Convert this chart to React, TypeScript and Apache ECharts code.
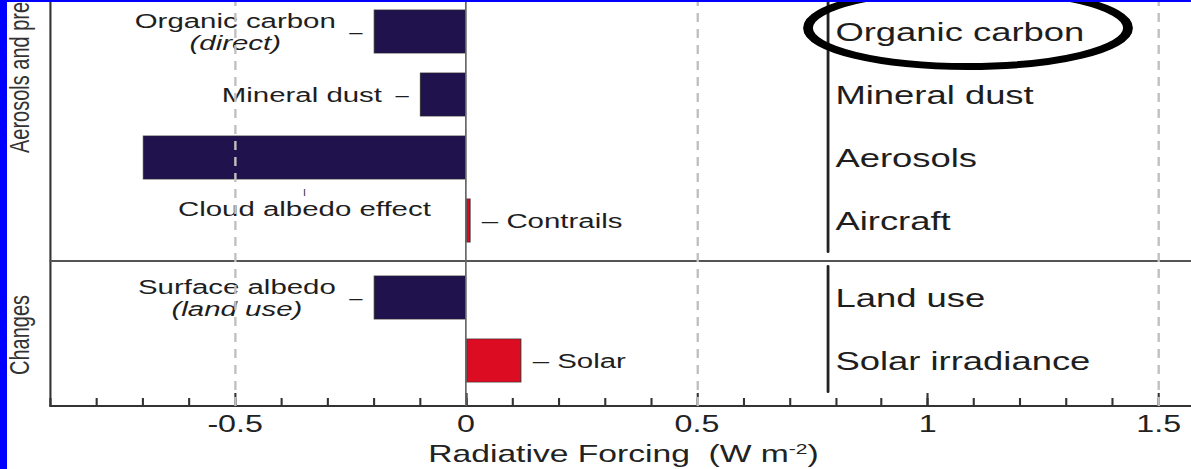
import React, { useEffect, useRef } from 'react';
import * as echarts from 'echarts';

// ---------- data ----------
const aerosolCategories = ['Organic carbon', 'Mineral dust', 'Aerosols', 'Aircraft'];
const aerosolAnnotations = ['Organic carbon\n(direct)', 'Mineral dust', 'Cloud albedo effect', 'Contrails'];
const aerosolValues = [-0.2, -0.1, -0.7, 0.01];

const changeCategories = ['Land use', 'Solar irradiance'];
const changeAnnotations = ['Surface albedo\n(land use)', 'Solar'];
const changeValues = [-0.2, 0.12];

const dashedGridValues = [-0.5, 0.5, 1.5];
const xMin = -0.9;
const xMax = 1.582;
const xAxisTitle = 'Radiative Forcing  (W m{sup|-2})';
const panelTitles = ['Aerosols and pre', 'Changes'];
const annotationsBelowBar = ['Cloud albedo effect'];

// ---------- styling ----------
const SCALE_X = 1.4011;
const INNER_W = 850;
const H = 469;
const FONT = '"Liberation Sans", Arial, Helvetica, sans-serif';
const NAVY = '#20124d';
const RED = '#dc0c23';
const TEXT = '#1e1e1e';

function barItems(values: number[], annotations: string[]) {
  return values.map((v, i) => {
    const name = annotations[i];
    let label: any;
    if (annotationsBelowBar.includes(name)) {
      label = {
        show: true,
        position: 'bottom',
        distance: 8,
        formatter: '{t||}\n{n|' + name + '}',
        rich: {
          t: { fontSize: 8, lineHeight: 8, color: '#222', fontFamily: FONT },
          n: { fontSize: 21, lineHeight: 26, color: TEXT, fontFamily: FONT },
        },
      };
    } else if (v < 0) {
      label = { show: true, position: 'left', distance: 8, formatter: '–', fontSize: 17, color: TEXT, fontFamily: FONT };
    } else {
      label = { show: true, position: 'right', distance: 8, formatter: '– ' + name, fontSize: 21, color: TEXT, fontFamily: FONT };
    }
    return {
      value: v,
      itemStyle: { color: v < 0 ? NAVY : RED, borderColor: 'rgba(40,40,40,0.8)', borderWidth: 0.8 },
      label,
    };
  });
}

function nameItems(values: number[], annotations: string[]) {
  const out: any[] = [];
  values.forEach((v, i) => {
    const name = annotations[i];
    if (v >= 0 || annotationsBelowBar.includes(name)) return;
    const lines = name.split('\n');
    const text = lines.map((l, k) => (k === 0 ? '{n|' + l + '}' : '{i|' + l + '}')).join('\n');
    out.push({
      value: [v, i],
      itemStyle: { opacity: 1 },
      label: {
        show: true,
        position: 'left',
        distance: 27,
        opacity: 1,
        color: TEXT,
        formatter: text,
        rich: {
          n: { fontSize: 21, lineHeight: 22, align: 'center', color: TEXT, fontFamily: FONT },
          i: { fontSize: 21, lineHeight: 22, align: 'center', fontStyle: 'italic', color: TEXT, fontFamily: FONT },
        },
      },
    });
  });
  return out;
}

const gridBase = { left: 36, right: -4, containLabel: false, outerBoundsMode: 'none' };
const RIGHT_AXIS_X = 827 / SCALE_X;
const RIGHT_OFFSET = RIGHT_AXIS_X - (INNER_W + 4);

function categoryAxis(gridIndex: number, data: string[]) {
  return {
    type: 'category',
    gridIndex,
    data,
    inverse: true,
    position: 'right',
    offset: RIGHT_OFFSET,
    axisLine: { show: true, onZero: false, lineStyle: { color: '#222', width: 2 } },
    axisTick: { show: false },
    axisLabel: { show: true, fontSize: 26, color: TEXT, margin: 6, fontFamily: FONT, align: 'left' },
    splitLine: { show: false },
  };
}

const option: any = {
  animation: false,
  backgroundColor: '#ffffff',
  textStyle: { fontFamily: FONT },
  grid: [
    { ...gridBase, top: 0, bottom: 63 },
    { ...gridBase, top: 0, height: 252 },
    { ...gridBase, top: 266, height: 126 },
    { ...gridBase, top: 0, bottom: 63 },
  ],
  xAxis: [
    {
      type: 'value',
      gridIndex: 0,
      min: xMin,
      max: xMax,
      axisLine: { show: true, onZero: false, lineStyle: { color: '#333', width: 2 } },
      axisTick: { show: true, inside: true, length: 13, lineStyle: { color: '#333', width: 1.5 } },
      axisLabel: { show: true, fontSize: 23, color: '#222', margin: 7, showMinLabel: false, showMaxLabel: false, fontFamily: FONT },
      splitLine: { show: false },
      name: xAxisTitle,
      nameLocation: 'middle',
      nameGap: 32,
      nameTextStyle: {
        fontSize: 24,
        lineHeight: 26,
        color: '#222',
        fontFamily: FONT,
        rich: { sup: { fontSize: 15, lineHeight: 10, verticalAlign: 'top', color: '#222', fontFamily: FONT } },
      },
    },
    {
      type: 'value',
      gridIndex: 1,
      min: xMin,
      max: xMax,
      position: 'bottom',
      offset: 9,
      axisLine: { show: true, onZero: false, lineStyle: { color: '#555', width: 1.8 } },
      axisTick: { show: false },
      axisLabel: { show: false },
      splitLine: { show: false },
    },
    { type: 'value', gridIndex: 2, min: xMin, max: xMax, show: false },
    {
      type: 'value',
      gridIndex: 3,
      min: xMin,
      max: xMax,
      interval: 0.1,
      axisLine: { show: false, onZero: false },
      axisTick: { show: true, inside: true, length: 8, lineStyle: { color: '#333', width: 1.5 } },
      axisLabel: { show: false },
      splitLine: { show: false },
    },
  ],
  yAxis: [
    { type: 'value', gridIndex: 0, min: 0, max: 1, show: false },
    categoryAxis(1, aerosolCategories),
    categoryAxis(2, changeCategories),
    {
      type: 'value',
      gridIndex: 3,
      min: 0,
      max: 1,
      position: 'left',
      axisLine: { show: true, onZero: false, lineStyle: { color: '#333', width: 1.5 } },
      axisTick: { show: false },
      axisLabel: { show: false },
      splitLine: { show: false },
    },
  ],
  series: [
    {
      type: 'line',
      xAxisIndex: 0,
      yAxisIndex: 0,
      data: [],
      silent: true,
      z: 1,
      markLine: {
        silent: true,
        symbol: ['none', 'none'],
        label: { show: false },
        data: [
          ...dashedGridValues.map((v) => ({ xAxis: v, lineStyle: { type: [9, 7], color: '#c0c0c0', width: 1.7 } })),
          { xAxis: 0, lineStyle: { type: 'solid', color: '#666', width: 1.2 } },
        ],
      },
    },
    {
      type: 'bar',
      name: 'Aerosols and precursors',
      xAxisIndex: 1,
      yAxisIndex: 1,
      barWidth: 44,
      z: 3,
      data: barItems(aerosolValues, aerosolAnnotations),
    },
    {
      type: 'scatter',
      xAxisIndex: 1,
      yAxisIndex: 1,
      symbolSize: 0,
      silent: true,
      z: 4,
      itemStyle: { opacity: 1 },
      data: nameItems(aerosolValues, aerosolAnnotations),
    },
    {
      type: 'bar',
      name: 'Changes',
      xAxisIndex: 2,
      yAxisIndex: 2,
      barWidth: 44,
      z: 3,
      data: barItems(changeValues, changeAnnotations),
    },
    {
      type: 'scatter',
      xAxisIndex: 2,
      yAxisIndex: 2,
      symbolSize: 0,
      silent: true,
      z: 4,
      itemStyle: { opacity: 1 },
      data: nameItems(changeValues, changeAnnotations),
    },
  ],
  graphic: [
    { type: 'rect', shape: { x: 0, y: 0, width: 5, height: H }, style: { fill: '#0000ff' }, z: 100 },
    { type: 'rect', shape: { x: 0, y: 0, width: INNER_W, height: 2 }, style: { fill: '#0000ff' }, z: 100 },
    {
      type: 'text',
      x: 13.5,
      y: 153,
      rotation: Math.PI / 2,
      style: { text: panelTitles[0], fontSize: 20, fill: '#333', align: 'left', verticalAlign: 'middle', textAlign: 'left', textVerticalAlign: 'middle', fontFamily: FONT },
      z: 50,
    },
    {
      type: 'text',
      x: 13.5,
      y: 335,
      rotation: Math.PI / 2,
      style: { text: panelTitles[1], fontSize: 20, fill: '#333', align: 'center', verticalAlign: 'middle', textAlign: 'center', textVerticalAlign: 'middle', fontFamily: FONT },
      z: 50,
    },
    {
      type: 'ellipse',
      shape: { cx: 968 / SCALE_X, cy: 28, rx: 160 / SCALE_X, ry: 38.5 },
      style: { fill: 'none', stroke: '#000', lineWidth: 7 },
      z: 90,
    },
  ],
};

export default function App() {
  const ref = useRef<HTMLDivElement>(null);
  useEffect(() => {
    if (!ref.current) return;
    const chart = echarts.init(ref.current, null, { renderer: 'svg' });
    chart.setOption(option);
    return () => chart.dispose();
  }, []);
  return (
    <div
      ref={ref}
      style={{
        position: 'absolute',
        left: 0,
        top: 0,
        width: INNER_W,
        height: H,
        transform: `scaleX(${SCALE_X})`,
        transformOrigin: '0 0',
        background: '#fff',
      }}
    />
  );
}
